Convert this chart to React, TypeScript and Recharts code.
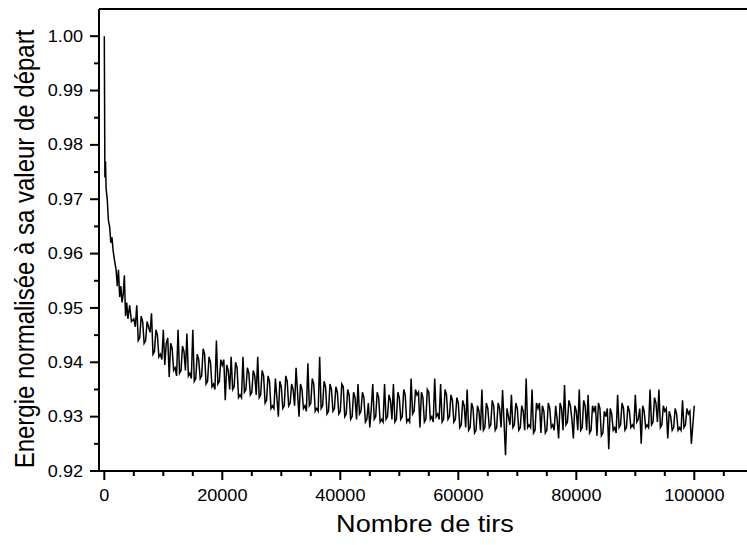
import { LineChart, Line, XAxis, YAxis, ReferenceLine } from "recharts";

// Nombre de tirs (x), main samples
const SHOTS = [
  0, 100, 200, 300, 500, 700, 900, 1100, 1300, 1500,
  1700, 2000, 2200, 2400, 2600, 2800, 3000, 3200, 3400, 3600,
  3800, 4000, 4300, 4600,
  5000, 5500, 6000, 6500, 7000, 7500, 8000, 8500, 9000, 9500,
  10000, 10500, 11000, 11500, 12000, 12500, 13000, 13500, 14000, 14500,
  15000, 15500, 16000, 16500, 17000, 17500, 18000, 18500, 19000, 19500,
  20000, 20500, 21000, 21500, 22000, 22500, 23000, 23500, 24000, 24500,
  25000, 25500, 26000, 26500, 27000, 27500, 28000, 28500, 29000, 29500,
  30000, 30500, 31000, 31500, 32000, 32500, 33000, 33500, 34000, 34500,
  35000, 35500, 36000, 36500, 37000, 37500, 38000, 38500, 39000, 39500,
  40000, 40500, 41000, 41500, 42000, 42500, 43000, 43500, 44000, 44500,
  45000, 45500, 46000, 46500, 47000, 47500, 48000, 48500, 49000, 49500,
  50000, 50500, 51000, 51500, 52000, 52500, 53000, 53500, 54000, 54500,
  55000, 55500, 56000, 56500, 57000, 57500, 58000, 58500, 59000, 59500,
  60000, 60500, 61000, 61500, 62000, 62500, 63000, 63500, 64000, 64500,
  65000, 65500, 66000, 66500, 67000, 67500, 68000, 68500, 69000, 69500,
  70000, 70500, 71000, 71500, 72000, 72500, 73000, 73500, 74000, 74500,
  75000, 75500, 76000, 76500, 77000, 77500, 78000, 78500, 79000, 79500,
  80000, 80500, 81000, 81500, 82000, 82500, 83000, 83500, 84000, 84500,
  85000, 85500, 86000, 86500, 87000, 87500, 88000, 88500, 89000, 89500,
  90000, 90500, 91000, 91500, 92000, 92500, 93000, 93500, 94000, 94500,
  95000, 95500, 96000, 96500, 97000, 97500, 98000, 98500, 99000, 99500,
  100000,
];

// energie normalisee (y), same order as SHOTS
const ENERGY = [
  1.0, 0.974, 0.977, 0.972, 0.97, 0.966, 0.965, 0.962, 0.963, 0.9605,
  0.959, 0.957, 0.954, 0.957, 0.952, 0.954, 0.951, 0.9525, 0.956, 0.9485,
  0.951, 0.948, 0.9505, 0.9475,
  0.948, 0.9505, 0.9445, 0.9475, 0.944, 0.9465, 0.949, 0.942, 0.945, 0.9415,
  0.946, 0.9435, 0.9373, 0.9425, 0.939, 0.946, 0.9385, 0.942, 0.9453, 0.938,
  0.946, 0.937, 0.9405, 0.9375, 0.9415, 0.9365, 0.94, 0.936, 0.944, 0.9365,
  0.9395, 0.933, 0.9385, 0.941, 0.9355, 0.939, 0.934, 0.941, 0.935, 0.938,
  0.9345, 0.9375, 0.941, 0.934, 0.9375, 0.933, 0.9365, 0.932, 0.937, 0.93,
  0.9355, 0.932, 0.9365, 0.9325, 0.935, 0.939, 0.93, 0.935, 0.932, 0.9398,
  0.9325, 0.936, 0.9315, 0.941, 0.932, 0.9355, 0.931, 0.935, 0.9315, 0.9345,
  0.931, 0.9355, 0.9305, 0.934, 0.93, 0.9335, 0.936, 0.931, 0.9335, 0.9295,
  0.928, 0.936, 0.93, 0.9335, 0.9295, 0.936, 0.93, 0.933, 0.936, 0.9295,
  0.9335, 0.93, 0.934, 0.9295, 0.937, 0.931, 0.934, 0.928, 0.9335, 0.9295,
  0.9345, 0.93, 0.937, 0.9305, 0.936, 0.9295, 0.934, 0.93, 0.933, 0.9295,
  0.9325, 0.9285, 0.932, 0.935, 0.928, 0.9315, 0.9275, 0.931, 0.935, 0.928,
  0.9315, 0.9285, 0.932, 0.928, 0.9315, 0.9349, 0.9229, 0.93, 0.934, 0.9285,
  0.9315, 0.928, 0.931, 0.937, 0.9285, 0.935, 0.9275, 0.9315, 0.927, 0.931,
  0.9275, 0.9315, 0.9285, 0.932, 0.926, 0.9315, 0.9358, 0.929, 0.932, 0.926,
  0.931, 0.935, 0.928, 0.932, 0.934, 0.9275, 0.931, 0.9265, 0.9315, 0.927,
  0.93, 0.924, 0.9305, 0.928, 0.934, 0.9285, 0.9315, 0.928, 0.931, 0.9285,
  0.934, 0.9295, 0.925, 0.931, 0.9285, 0.935, 0.929, 0.9325, 0.935, 0.9285,
  0.931, 0.926, 0.93, 0.928, 0.9305, 0.928, 0.933, 0.9285, 0.9305, 0.925,
  0.932,
];

// extra samples in between (the trace is very dense in the original)
const SHOTS_FINE = [
  5250, 5750, 6250, 6750, 7250, 7750, 8250, 8750, 9250, 9750,
  10250, 10750, 11250, 11750, 12250, 12750, 13250, 13750, 14250, 14750,
  15250, 15750, 16250, 16750, 17250, 17750, 18250, 18750, 19250, 19750,
  20250, 20750, 21250, 21750, 22250, 22750, 23250, 23750, 24250, 24750,
  25250, 25750, 26250, 26750, 27250, 27750, 28250, 28750, 29250, 29750,
  30250, 30750, 31250, 31750, 32250, 32750, 33250, 33750, 34250, 34750,
  35250, 35750, 36250, 36750, 37250, 37750, 38250, 38750, 39250, 39750,
  40250, 40750, 41250, 41750, 42250, 42750, 43250, 43750, 44250, 44750,
  45250, 45750, 46250, 46750, 47250, 47750, 48250, 48750, 49250, 49750,
  50250, 50750, 51250, 51750, 52250, 52750, 53250, 53750, 54250, 54750,
  55250, 55750, 56250, 56750, 57250, 57750, 58250, 58750, 59250, 59750,
  60250, 60750, 61250, 61750, 62250, 62750, 63250, 63750, 64250, 64750,
  65250, 65750, 66250, 66750, 67250, 67750, 68250, 68750, 69250, 69750,
  70250, 70750, 71250, 71750, 72250, 72750, 73250, 73750, 74250, 74750,
  75250, 75750, 76250, 76750, 77250, 77750, 78250, 78750, 79250, 79750,
  80250, 80750, 81250, 81750, 82250, 82750, 83250, 83750, 84250, 84750,
  85250, 85750, 86250, 86750, 87250, 87750, 88250, 88750, 89250, 89750,
  90250, 90750, 91250, 91750, 92250, 92750, 93250, 93750, 94250, 94750,
  95250, 95750, 96250, 96750, 97250, 97750, 98250, 98750, 99250, 99750,
];

const ENERGY_FINE = [
  0.9465, 0.944, 0.9485, 0.9435, 0.9475, 0.9455, 0.9415, 0.946, 0.941, 0.9405,
  0.9395, 0.9445, 0.9435, 0.9385, 0.9375, 0.938, 0.943, 0.9385, 0.9375, 0.937,
  0.9365, 0.9415, 0.937, 0.9425, 0.936, 0.941, 0.9355, 0.935, 0.936, 0.9405,
  0.9405, 0.9395, 0.935, 0.935, 0.94, 0.9335, 0.9335, 0.9345, 0.939, 0.934,
  0.9385, 0.934, 0.9335, 0.9385, 0.9325, 0.9375, 0.9315, 0.9315, 0.9335, 0.9365,
  0.9315, 0.9375, 0.932, 0.936, 0.932, 0.9345, 0.936, 0.9315, 0.931, 0.932,
  0.937, 0.931, 0.931, 0.9315, 0.9365, 0.9305, 0.936, 0.931, 0.9355, 0.9305,
  0.936, 0.93, 0.935, 0.9295, 0.9345, 0.9295, 0.9305, 0.9345, 0.929, 0.9325,
  0.9315, 0.9295, 0.9345, 0.929, 0.929, 0.9295, 0.934, 0.9295, 0.929, 0.9345,
  0.9295, 0.935, 0.929, 0.929, 0.9305, 0.935, 0.9345, 0.9345, 0.929, 0.935,
  0.9295, 0.929, 0.93, 0.9295, 0.929, 0.935, 0.9295, 0.934, 0.929, 0.9335,
  0.928, 0.933, 0.928, 0.9275, 0.9325, 0.927, 0.932, 0.9275, 0.9275, 0.9325,
  0.928, 0.933, 0.9275, 0.9325, 0.928, 0.929, 0.9315, 0.9285, 0.928, 0.9325,
  0.9275, 0.932, 0.9275, 0.928, 0.928, 0.927, 0.9325, 0.9325, 0.932, 0.927,
  0.9325, 0.928, 0.9275, 0.9295, 0.9325, 0.9275, 0.9285, 0.933, 0.9295, 0.932,
  0.9275, 0.9275, 0.933, 0.9275, 0.927, 0.932, 0.932, 0.9325, 0.9265, 0.931,
  0.9315, 0.9315, 0.9275, 0.927, 0.928, 0.9325, 0.9275, 0.932, 0.928, 0.928,
  0.929, 0.9315, 0.932, 0.928, 0.928, 0.9285, 0.9335, 0.929, 0.928, 0.932,
  0.9315, 0.931, 0.9275, 0.9315, 0.9275, 0.9275, 0.928, 0.9315, 0.931, 0.9285,
];

const X_TICKS = [
  0, 5000, 10000, 15000, 20000, 25000, 30000, 35000, 40000, 45000, 50000,
  55000, 60000, 65000, 70000, 75000, 80000, 85000, 90000, 95000, 100000, 105000,
];
const Y_TICKS = [
  0.92, 0.925, 0.93, 0.935, 0.94, 0.945, 0.95, 0.955, 0.96, 0.965, 0.97,
  0.975, 0.98, 0.985, 0.99, 0.995, 1.0,
];

const data = [
  ...SHOTS.map((x, i) => ({ x, e: ENERGY[i] })),
  ...SHOTS_FINE.map((x, i) => ({ x, e: ENERGY_FINE[i] })),
].sort((a, b) => a.x - b.x);

const FONT = '"Liberation Sans", Arial, sans-serif';
const SX = 1.13; // the original figure is a bit stretched sideways

function YTick({ x, y, payload }: any) {
  const v = payload.value;
  const major = Math.round(v * 1000) % 10 === 0;
  return (
    <g>
      <line x1={x - (major ? 9 : 5)} x2={x} y1={y} y2={y} stroke="#000" strokeWidth={2} />
      {major && (
        <text
          transform={`translate(${x - 16},${y}) scale(${SX},1)`}
          textAnchor="end"
          dy="0.35em"
          fontSize={16}
          fontFamily={FONT}
          fill="#000"
        >
          {v.toFixed(2)}
        </text>
      )}
    </g>
  );
}

function XTick({ x, y, payload }: any) {
  const v = payload.value;
  const major = v % 20000 === 0;
  return (
    <g>
      <line x1={x} x2={x} y1={y} y2={y + (major ? 9 : 5)} stroke="#000" strokeWidth={2} />
      {major && (
        <text
          transform={`translate(${x},${y + 30}) scale(${SX},1)`}
          textAnchor="middle"
          fontSize={16}
          fontFamily={FONT}
          fill="#000"
        >
          {v}
        </text>
      )}
    </g>
  );
}

export default function App() {
  return (
    <div style={{ position: "absolute", left: 0, top: 0, width: 747, height: 545, background: "#fff" }}>
      <LineChart width={747} height={545} data={data} margin={{ top: 9, right: 0, bottom: 0, left: 0 }}>
        <XAxis
          dataKey="x"
          type="number"
          domain={[-900, 108930]}
          allowDataOverflow
          ticks={X_TICKS}
          interval={0}
          tickSize={0}
          tickMargin={0}
          tickLine={false}
          axisLine={{ stroke: "#000", strokeWidth: 2 }}
          height={74}
          tick={<XTick />}
        />
        <YAxis
          type="number"
          domain={[0.92, 1.005]}
          allowDataOverflow
          ticks={Y_TICKS}
          interval={0}
          tickSize={0}
          tickMargin={0}
          tickLine={false}
          axisLine={{ stroke: "#000", strokeWidth: 2 }}
          width={99}
          tick={<YTick />}
        />
        <ReferenceLine y={1.005} stroke="#000" strokeWidth={2} />
        <Line
          dataKey="e"
          type="linear"
          stroke="#000"
          strokeWidth={1.5}
          dot={false}
          isAnimationActive={false}
        />
      </LineChart>
      <svg
        width={747}
        height={545}
        style={{ position: "absolute", left: 0, top: 0, pointerEvents: "none" }}
      >
        <text
          transform={`translate(425,532) scale(${SX},1)`}
          textAnchor="middle"
          fontSize={24}
          fontFamily={FONT}
          fill="#000"
        >
          Nombre de tirs
        </text>
        <text
          transform={`translate(34,249) scale(${SX},1) rotate(-90)`}
          textAnchor="middle"
          fontSize={24}
          fontFamily={FONT}
          fill="#000"
        >
          Energie normalisée à sa valeur de départ
        </text>
      </svg>
    </div>
  );
}
